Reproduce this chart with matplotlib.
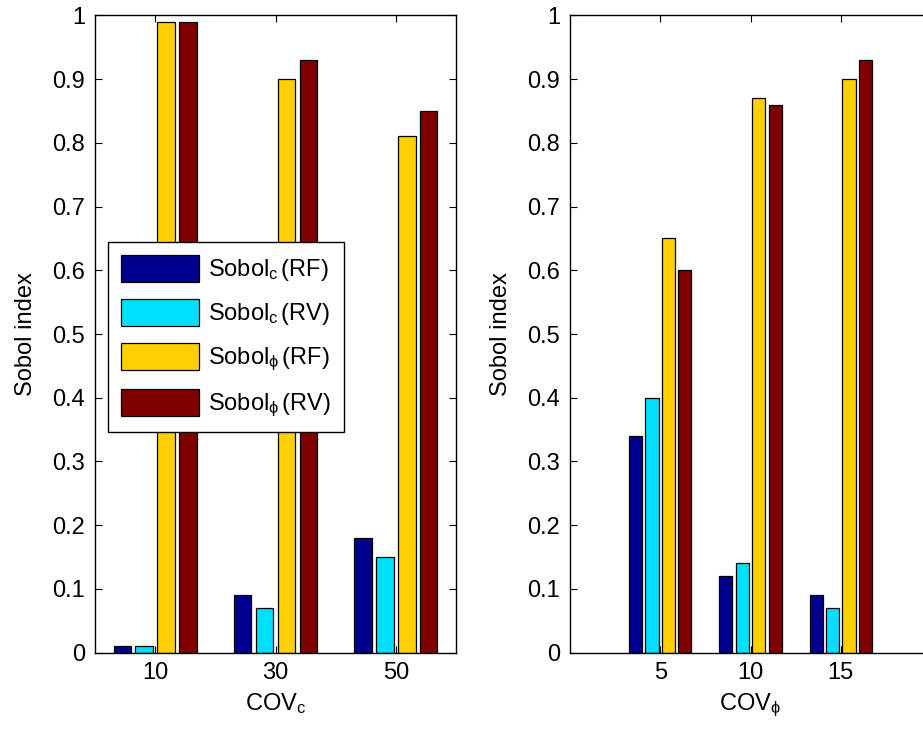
#!/usr/bin/env python3
"""Grouped Sobol-index bars for COV_c and COV_phi, MATLAB-style."""
import numpy as np
import matplotlib
matplotlib.use('Agg')
import matplotlib.pyplot as plt

plt.rcParams['font.family'] = ['Liberation Sans', 'DejaVu Sans']
plt.rcParams['mathtext.fontset'] = 'custom'
plt.rcParams['mathtext.rm'] = 'Liberation Sans'
plt.rcParams['mathtext.it'] = 'Liberation Sans'
plt.rcParams['mathtext.fallback'] = 'stixsans'

# jet(64) rows 1, 22, 43, 64 -> MATLAB default bar colours for 4 series
COLORS = ['#00008F', '#00DFFF', '#FFCF00', '#800000']
SERIES = [r'Sobol$_{\rm c}\,$(RF)', r'Sobol$_{\rm c}\,$(RV)',
          r'Sobol$_{\phi}\,$(RF)', r'Sobol$_{\phi}\,$(RV)']

cov_c = ['10', '30', '50']
c_rf_c = [0.01, 0.09, 0.18]
c_rv_c = [0.01, 0.07, 0.15]
c_rf_phi = [0.99, 0.90, 0.81]
c_rv_phi = [0.99, 0.93, 0.85]

cov_phi = ['5', '10', '15']
p_rf_c = [0.34, 0.12, 0.09]
p_rv_c = [0.40, 0.14, 0.07]
p_rf_phi = [0.65, 0.87, 0.90]
p_rv_phi = [0.60, 0.86, 0.93]

FS = 17
W, H = 923, 730
fig = plt.figure(figsize=(W / 100, H / 100), dpi=100)

# axes boxes measured in pixels of the reference (right one runs off the page)
ax1 = fig.add_axes([95 / W, 1 - 652.7 / H, 361 / W, 637.4 / H])
ax2 = fig.add_axes([570 / W, 1 - 652.7 / H, 361 / W, 637.4 / H])


def grouped(ax, labels, series, xlim, xlabel):
    n = len(series)
    x = np.arange(1, len(labels) + 1)
    group_w = min(0.8, n / (n + 1.5))
    slot = group_w / n
    handles = []
    for i, vals in enumerate(series):
        off = (i - (n - 1) / 2) * slot
        h = ax.bar(x + off, vals, width=slot * 0.8, color=COLORS[i],
                   edgecolor='black', linewidth=0.9)
        handles.append(h)
    ax.set_xlim(*xlim)
    ax.set_ylim(0, 1)
    ax.set_xticks(x)
    ax.set_xticklabels(labels)
    ax.set_yticks(np.round(np.arange(0, 1.01, 0.1), 1))
    ax.set_yticklabels(['0'] + [f'{v:.1f}' for v in np.arange(0.1, 0.95, 0.1)] + ['1'])
    ax.tick_params(direction='in', top=True, right=True, length=5,
                   width=0.8, labelsize=FS, pad=7)
    for s in ax.spines.values():
        s.set_linewidth(1.0)
    ax.set_ylabel('Sobol index', fontsize=FS, labelpad=11)
    ax.set_xlabel(xlabel, fontsize=FS, labelpad=5)
    return handles


hs = grouped(ax1, cov_c, [c_rf_c, c_rv_c, c_rf_phi, c_rv_phi],
             (0.5, 3.5), r'COV$_{\rm c}$')
grouped(ax2, cov_phi, [p_rf_c, p_rv_c, p_rf_phi, p_rv_phi],
        (0, 4), r'COV$_{\phi}$')

leg = ax1.legend(hs, SERIES, loc='upper left', bbox_to_anchor=(0.036, 0.645),
                 borderaxespad=0, fontsize=FS, fancybox=False, framealpha=1,
                 edgecolor='black', handlelength=3.3, handleheight=1.4,
                 labelspacing=0.66, handletextpad=0.38, borderpad=0.55)
leg.get_frame().set_linewidth(1.0)

fig.savefig('out.png', dpi=100)
